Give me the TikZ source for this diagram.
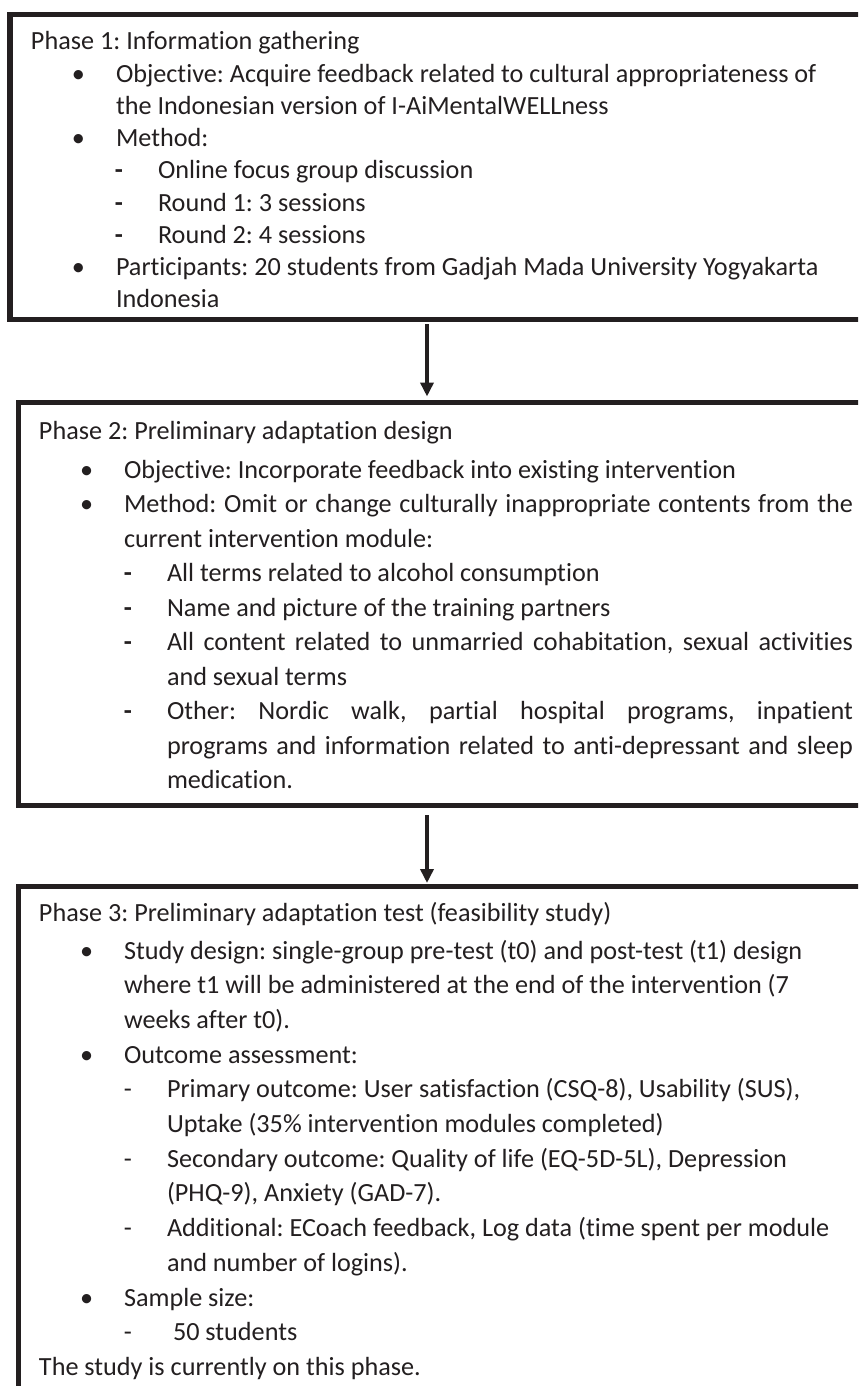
\documentclass[tikz,border=0pt]{standalone}
\usepackage{fontspec}
\setmainfont{Carlito}[Ligatures={NoCommon}]
\usetikzlibrary{arrows.meta}
\definecolor{ink}{RGB}{35,31,32}
\frenchspacing
\begin{document}
\begin{tikzpicture}[x=0.5pt,y=-0.5pt,
  box/.style={draw=ink, line width=2.75pt, rectangle, inner sep=0pt, outer sep=0pt, anchor=north west},
  txt/.style={anchor=base west, inner sep=0pt, outer sep=0pt, text=ink, font=\fontsize{13.1}{15.7}\selectfont\frenchspacing},
  bul/.style={anchor=base, inner sep=0pt, outer sep=0pt, text=ink, font=\fontsize{13.1}{15.7}\selectfont},
  bdash/.style={anchor=base, inner sep=0pt, outer sep=0pt, text=ink, font=\fontsize{13.1}{15.7}\selectfont\bfseries},
  tdash/.style={anchor=base, inner sep=0pt, outer sep=0pt, text=ink, font=\fontsize{13.1}{15.7}\selectfont},
  arr/.style={draw=ink, line width=2pt, -{Triangle[length=7pt,width=6.5pt]}}
]
\useasboundingbox (0,0) rectangle (858,1386);
\clip (0,0) rectangle (858,1386);
\fill[white] (0,0) rectangle (858,1386);

% boxes
\node[box, minimum width=432.5pt, minimum height=152.5pt] (b1) at (10,14.5) {};
\node[box, minimum width=428.25pt, minimum height=201.5pt] (b2) at (18.5,402.5) {};
\node[box, minimum width=428.25pt, minimum height=256.75pt] (b3) at (18.5,886.5) {};

% arrows
\coordinate (ax) at (427,0);
\draw[arr, shorten <=2.25pt, shorten >=3pt] (ax |- b1.south) -- (ax |- b2.north);
\draw[arr, shorten <=4.75pt, shorten >=1.75pt] (ax |- b2.south) -- (ax |- b3.north);

% Phase 1
\node[txt] (p1h) at (31,50) {Phase 1: Information gathering};
\node[bul] (p1b1) at (78.3,82.2) {•};
\node[txt] (p1o1) at (116,82.2) {Objective: Acquire feedback related to cultural appropriateness of};
\node[txt] (p1o2) at (116,114.4) {the Indonesian version of I-AiMentalWELLness};
\node[bul] (p1b2) at (78.3,146.6) {•};
\node[txt] (p1m) at (116,146.6) {Method:};
\node[bdash] (p1d1) at (119,178.8) {-};
\node[txt] (p1m1) at (158,178.8) {Online focus group discussion};
\node[bdash] (p1d2) at (119,211) {-};
\node[txt] (p1m2) at (158,211) {Round 1: 3 sessions};
\node[bdash] (p1d3) at (119,243.2) {-};
\node[txt] (p1m3) at (158,243.2) {Round 2: 4 sessions};
\node[bul] (p1b3) at (78.3,275.4) {•};
\node[txt] (p1p1) at (116,275.4) {Participants: 20 students from Gadjah Mada University Yogyakarta};
\node[txt] (p1p2) at (116,307.6) {Indonesia};

% Phase 2
\node[txt] (p2h) at (39,439.3) {Phase 2: Preliminary adaptation design};
\node[bul] (p2b1) at (86.7,478) {•};
\node[txt] (p2o) at (124,478) {Objective: Incorporate feedback into existing intervention};
\node[bul] (p2b2) at (86.7,512.5) {•};
\node[txt] (p2m1) at (124,512.5) {\makebox[364.5pt][s]{Method: Omit or change culturally inappropriate contents from the}};
\node[txt] (p2m2) at (124,547) {current intervention module:};
\node[bdash] (p2d1) at (128,581.5) {-};
\node[txt] (p2s1) at (167,581.5) {All terms related to alcohol consumption};
\node[bdash] (p2d2) at (128,616) {-};
\node[txt] (p2s2) at (167,616) {Name and picture of the training partners};
\node[bdash] (p2d3) at (128,650.5) {-};
\node[txt] (p2s3a) at (167,650.5) {\makebox[343pt][s]{All content related to unmarried cohabitation, sexual activities}};
\node[txt] (p2s3b) at (167,685) {and sexual terms};
\node[bdash] (p2d4) at (128,719.5) {-};
\node[txt] (p2s4a) at (167,719.5) {\makebox[343pt][s]{Other: Nordic walk, partial hospital programs, inpatient}};
\node[txt] (p2s4b) at (167,754) {\makebox[343pt][s]{programs and information related to anti-depressant and sleep}};
\node[txt] (p2s4c) at (167,788.5) {medication.};

% Phase 3
\node[txt] (p3h) at (39,921.5) {Phase 3: Preliminary adaptation test (feasibility study)};
\node[bul] (p3b1) at (86.7,959) {•};
\node[txt] (p3s1) at (124,959) {Study design: single-group pre-test (t0) and post-test (t1) design};
\node[txt] (p3s2) at (124,993.7) {where t1 will be administered at the end of the intervention (7};
\node[txt] (p3s3) at (124,1028.4) {weeks after t0).};
\node[bul] (p3b2) at (86.7,1063.1) {•};
\node[txt] (p3o) at (124,1063.1) {Outcome assessment:};
\node[tdash] (p3d1) at (128,1097.8) {-};
\node[txt] (p3o1a) at (167,1097.8) {Primary outcome: User satisfaction (CSQ-8), Usability (SUS),};
\node[txt] (p3o1b) at (167,1132.5) {Uptake (35\% intervention modules completed)};
\node[tdash] (p3d2) at (128,1167.2) {-};
\node[txt] (p3o2a) at (167,1167.2) {Secondary outcome: Quality of life (EQ-5D-5L), Depression};
\node[txt] (p3o2b) at (167,1201.9) {(PHQ-9), Anxiety (GAD-7).};
\node[tdash] (p3d3) at (128,1236.6) {-};
\node[txt] (p3o3a) at (167,1236.6) {Additional: ECoach feedback, Log data (time spent per module};
\node[txt] (p3o3b) at (167,1271.3) {and number of logins).};
\node[bul] (p3b3) at (86.7,1306) {•};
\node[txt] (p3ss) at (124,1306) {Sample size:};
\node[tdash] (p3d4) at (128,1340.7) {-};
\node[txt] (p3n) at (173,1340.7) {50 students};
\node[txt] (p3f) at (39,1375.4) {The study is currently on this phase.};
\end{tikzpicture}
\end{document}
